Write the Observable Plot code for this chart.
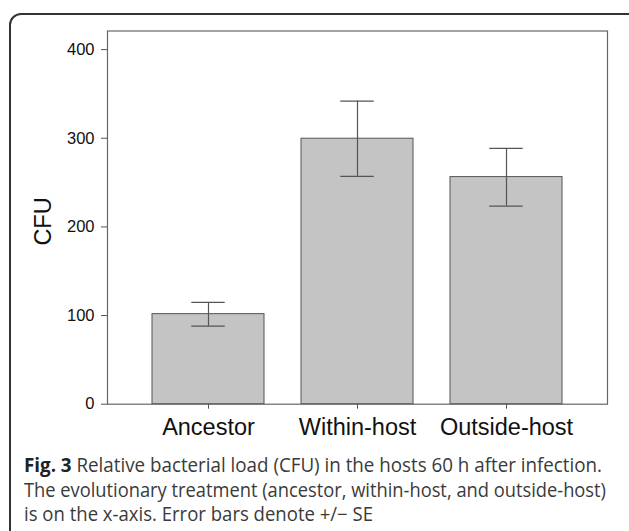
<!DOCTYPE html>
<html>
<head>
<meta charset="utf-8">
<script src="https://cdn.jsdelivr.net/npm/d3@7"></script>
<script src="https://cdn.jsdelivr.net/npm/@observablehq/plot@0.6"></script>
<style>
  html, body { margin: 0; padding: 0; background: #fff; width: 629px; height: 531px; overflow: hidden; }
  #box { position: absolute; left: 9px; top: 13px; width: 640px; height: 580px; border: 2px solid #333; border-radius: 12px; box-sizing: border-box; }
  #chart { position: absolute; left: 0; top: 0; }
  #caption { position: absolute; left: 24px; top: 453px; font-family: "Open Sans", sans-serif; font-size: 19.5px; line-height: 24.5px; color: #3a3a3a; white-space: nowrap; }
  #caption .ln { display: block; width: max-content; transform-origin: 0 50%; }
  #caption b { font-weight: 700; color: #222; }
</style>
</head>
<body>
<div id="box"></div>
<div id="chart"></div>
<div id="caption"><span class="ln" data-w="578"><b>Fig. 3</b> Relative bacterial load (CFU) in the hosts 60 h after infection.</span><span class="ln" data-w="582">The evolutionary treatment (ancestor, within-host, and outside-host)</span><span class="ln" data-w="349">is on the x-axis. Error bars denote +/− SE</span></div>
<script>
const categories = ["Ancestor", "Within-host", "Outside-host"];
const means = [101.6, 299.5, 256.2];
const lower = [88, 257, 223.5];
const upper = [114.8, 342, 288.6];
const yTicks = [0, 100, 200, 300, 400];

const data = categories.map((c, i) => ({cat: c, mean: means[i], lo: lower[i], hi: upper[i]}));

const plot = Plot.plot({
  width: 629,
  height: 445,
  marginLeft: 107,
  marginRight: 22,
  marginTop: 30.5,
  marginBottom: 41.3,
  style: {fontFamily: "'Liberation Sans', Arial, sans-serif", background: "transparent", color: "#111"},
  x: {domain: categories, paddingInner: 0.25, paddingOuter: 0.2917, label: null},
  y: {domain: [0, 421], label: null},
  marks: [
    Plot.barY(data, {x: "cat", y: "mean", fill: "#c4c4c4", stroke: "#555", strokeWidth: 1}),
    Plot.ruleX(data, {x: "cat", y1: "lo", y2: "hi", stroke: "#555", strokeWidth: 1.2}),
    Plot.tickY(data, {x: "cat", y: "lo", stroke: "#555", strokeWidth: 1.2, insetLeft: 39.25, insetRight: 39.25}),
    Plot.tickY(data, {x: "cat", y: "hi", stroke: "#555", strokeWidth: 1.2, insetLeft: 39.25, insetRight: 39.25}),
    Plot.frame({stroke: "#666", strokeWidth: 1.2}),
    Plot.axisY({ticks: yTicks, tickSize: 6, tickPadding: 7, fontSize: 16.5, label: null, stroke: "#555"}),
    Plot.axisX({tickSize: 5, tickPadding: 9, fontSize: 23.5, label: null, stroke: "#555"}),
    Plot.text(["CFU"], {frameAnchor: "left", dx: -64, dy: 28, rotate: -90, fontSize: 23.5, fill: "#111"})
  ]
});
document.getElementById("chart").appendChild(plot);

document.querySelectorAll("#caption .ln").forEach(el => {
  const target = +el.dataset.w;
  const w = el.getBoundingClientRect().width;
  if (w > 0) el.style.transform = `scaleX(${target / w})`;
});
</script>
</body>
</html>
